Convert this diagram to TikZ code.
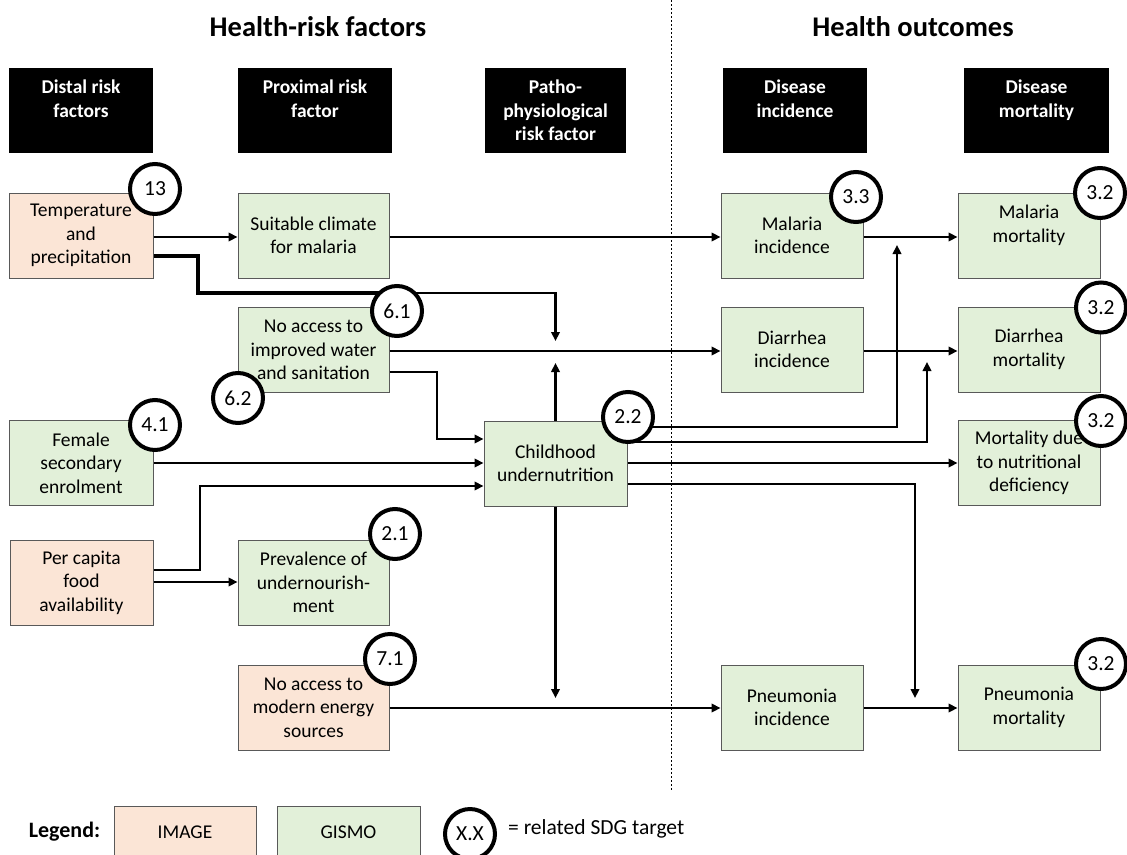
\documentclass[tikz,border=0pt]{standalone}
\usepackage{fontspec}
\setmainfont{Carlito}
\usetikzlibrary{arrows.meta}
\definecolor{imgfill}{HTML}{FBE5D6}
\definecolor{gisfill}{HTML}{E2F0D9}
\definecolor{boxline}{HTML}{595959}
\begin{document}
\begin{tikzpicture}[x=1pt,y=-1pt,
 box/.style={draw=boxline,line width=1pt,inner sep=0pt,align=center,font=\fontsize{19.5}{23.5}\selectfont,minimum height=85pt},
 ibox/.style={box,fill=imgfill},
 gbox/.style={box,fill=gisfill},
 hbox/.style={fill=black,minimum height=85pt,inner sep=0pt},
 htext/.style={text=white,font=\bfseries\fontsize{19.5}{23.5}\selectfont,align=center,anchor=north,inner sep=0pt},
 sdg/.style={circle,draw,line width=4pt,fill=white,minimum size=50pt,inner sep=0pt,font=\fontsize{21.5}{21.5}\selectfont},
 conn/.style={line width=2.5pt,-{Triangle[length=9pt,width=8.5pt]}},
 title/.style={font=\bfseries\fontsize{28.5}{30}\selectfont},
]
\useasboundingbox (0,0) rectangle (1127,854);
% divider
\draw[dash pattern=on 2pt off 2pt,line width=0.9pt] (671,0) -- (671,790);
% titles
\node[title] (t1) at (318,27) {Health-risk factors};
\node[title] (t2) at (913,27) {Health outcomes};
% header boxes
\node[hbox,minimum width=144pt] (h1) at (81,110.5) {};
\node[hbox,minimum width=154pt] (h2) at (315,110.5) {};
\node[hbox,minimum width=141pt] (h3) at (555.5,110.5) {};
\node[hbox,minimum width=144pt] (h4) at (795,110.5) {};
\node[hbox,minimum width=145pt] (h5) at (1036.5,110.5) {};
\node[htext] (ht1) at (81,80) {Distal risk\\factors};
\node[htext] (ht2) at (315,80) {Proximal risk\\factor};
\node[htext] (ht3) at (555.5,80) {Patho-\\physiological\\risk factor};
\node[htext] (ht4) at (795,80) {Disease\\incidence};
\node[htext] (ht5) at (1036.5,80) {Disease\\mortality};
% boxes
\node[ibox,minimum width=144pt] (temp) at (81,235.5) {Temperature\\and\\precipitation};
\node[gbox,minimum width=151pt] (climate) at (313.5,235.5) {Suitable climate\\for malaria};
\node[gbox,minimum width=151pt] (water) at (313.5,350) {No access to\\improved water\\and sanitation};
\node[gbox,minimum width=144pt] (female) at (81,463) {Female\\secondary\\enrolment};
\node[ibox,minimum width=143pt] (percap) at (81.5,582.5) {Per capita\\food\\availability};
\node[gbox,minimum width=151pt] (prev) at (313.5,582.5) {Prevalence of\\undernourish-\\ment};
\node[ibox,minimum width=151pt] (energy) at (313.5,707.5) {No access to\\modern energy\\sources};
\node[gbox,minimum width=143pt] (child) at (555.5,463.5) {Childhood\\undernutrition};
\node[gbox,minimum width=142pt] (malinc) at (792,235.5) {Malaria\\incidence};
\node[gbox,minimum width=142pt] (diainc) at (792,349.5) {Diarrhea\\incidence};
\node[gbox,minimum width=142pt] (pneinc) at (792,707.5) {Pneumonia\\incidence};
\node[gbox,minimum width=142pt] (malmort) at (1029,235.5) {Malaria\\mortality\\~};
\node[gbox,minimum width=142pt] (diamort) at (1029,349.5) {Diarrhea\\mortality};
\node[gbox,minimum width=142pt] (nutmort) at (1029,463) {Mortality due\\to nutritional\\deficiency};
\node[gbox,minimum width=142pt] (pnemort) at (1029,707.5) {Pneumonia\\mortality};
% junction points
\coordinate (jw) at (555.5,341);
\coordinate (jc) at (555.5,363);
\coordinate (jm) at (897,245);
\coordinate (jd) at (927,362);
\coordinate (jp1) at (555.5,698);
\coordinate (jp2) at (915,698);
% connectors
\draw[conn] (temp.east |- 0,237) -- (climate.west |- 0,237);
\draw[conn] (climate.east |- 0,237) -- (malinc.west |- 0,237);
\draw[conn] (malinc.east |- 0,237) -- (malmort.west |- 0,237);
\draw[conn] (temp.east |- 0,256) -- (198,256) -- (198,293) -- (jw |- 0,293) -- (jw);
\draw[line width=4.5pt] (temp.east |- 0,256) -- (198,256) -- (198,293) -- (397,293);
\draw[conn] (water.east |- 0,351) -- (diainc.west |- 0,351);
\draw[conn] (diainc.east |- 0,351) -- (diamort.west |- 0,351);
\draw[conn] (water.east |- 0,372) -- (437,372) -- (437,439) -- (child.west |- 0,439);
\draw[conn] (female.east |- 0,463) -- (child.west |- 0,463);
\draw[conn] (percap.east |- 0,570) -- (200,570) -- (200,486) -- (child.west |- 0,486);
\draw[conn] (percap.east |- 0,582) -- (prev.west |- 0,582);
\draw[conn] (child.north) -- (jc);
\draw[conn] (child.east |- 0,427) -- (jm |- 0,427) -- (jm);
\draw[conn] (child.east |- 0,442) -- (jd |- 0,442) -- (jd);
\draw[conn] (child.east |- 0,463) -- (nutmort.west |- 0,463);
\draw[conn] (child.east |- 0,484) -- (jp2 |- 0,484) -- (jp2);
\draw[conn] (child.south) -- (jp1);
\draw[conn] (energy.east |- 0,708) -- (pneinc.west |- 0,708);
\draw[conn] (pneinc.east |- 0,708) -- (pnemort.west |- 0,708);
% SDG circles
\node[sdg] (c13) at (155,189) {13};
\node[sdg] (c61) at (397,311) {6.1};
\node[sdg] (c62) at (238,398) {6.2};
\node[sdg] (c41) at (155,425) {4.1};
\node[sdg] (c21) at (395,534) {2.1};
\node[sdg] (c71) at (390,659) {7.1};
\node[sdg] (c22) at (628,417) {2.2};
\node[sdg] (c33) at (856,197) {3.3};
\node[sdg] (c32a) at (1100,193) {3.2};
\node[sdg] (c32b) at (1101,307.5) {3.2};
\node[sdg] (c32c) at (1101,421) {3.2};
\node[sdg] (c32d) at (1101,664) {3.2};
% legend
\node[font=\bfseries\fontsize{22}{22}\selectfont] (leg) at (64.5,832) {Legend:};
\node[ibox,minimum width=142pt,minimum height=52pt] (limg) at (185,832) {IMAGE};
\node[gbox,minimum width=143pt,minimum height=52pt] (lgis) at (348.5,832) {GISMO};
\node[sdg] (lx) at (470,834) {X.X};
\node[anchor=west,inner sep=0pt,font=\fontsize{21.5}{22}\selectfont] (ltxt) at (508,829) {= related SDG target};
\end{tikzpicture}
\end{document}
